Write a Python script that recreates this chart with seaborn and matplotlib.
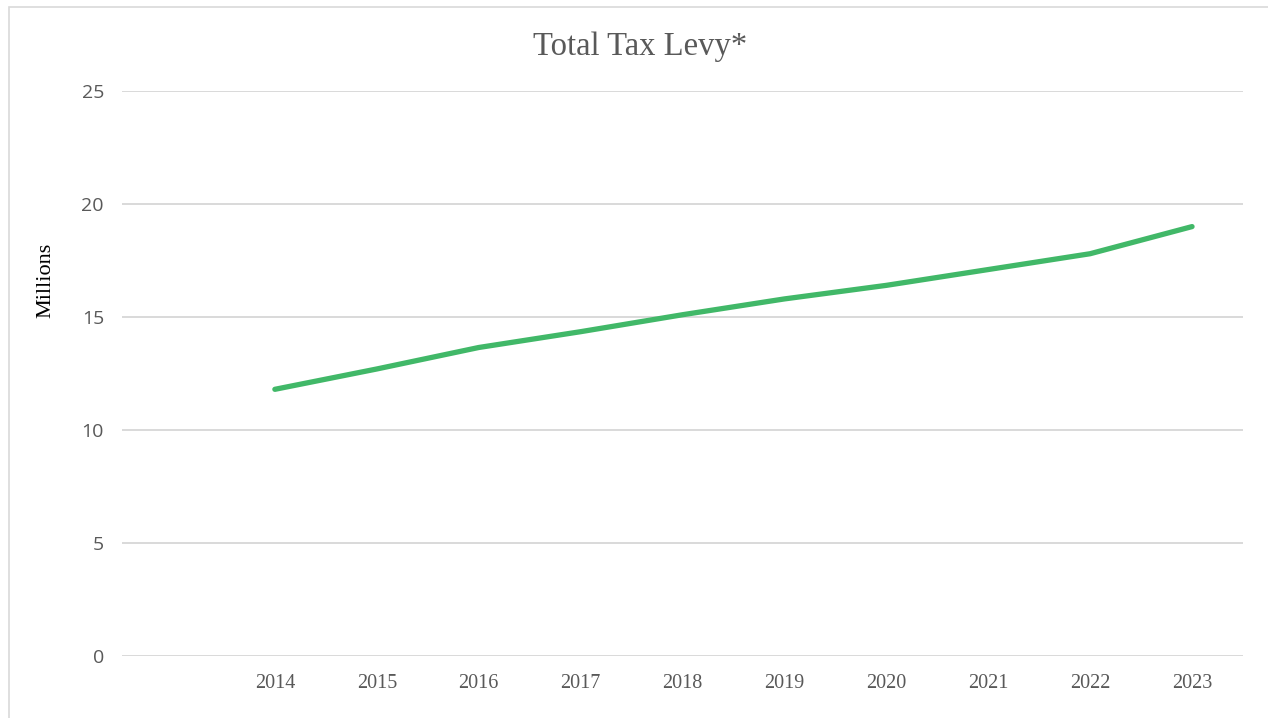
import numpy as np
import matplotlib
matplotlib.use("Agg")
import matplotlib.pyplot as plt
from matplotlib.patches import Rectangle
import seaborn as sns

# Total tax levy by year, in millions
years = ["2014", "2015", "2016", "2017", "2018", "2019", "2020", "2021", "2022", "2023"]
levy = [11.8, 12.7, 13.65, 14.35, 15.1, 15.8, 16.4, 17.1, 17.8, 19.0]
y_ticks = [0, 5, 10, 15, 20, 25]

sns.set_theme(style="white")
plt.rcParams["font.family"] = ["Liberation Serif", "DejaVu Serif"]

W, H = 1268, 718
fig = plt.figure(figsize=(W / 100, H / 100), dpi=100)
ax = fig.add_axes([122 / W, 1 - 656 / H, (1243 - 122) / W, (656 - 91) / H])

# Category slots: the first slot is left empty, years fill the rest
x_pos = np.arange(len(years)) + 1

ax.set_axisbelow(True)
for v in y_ticks:
    ax.axhline(v, color="#d9d9d9", lw=1.4, zorder=0)

sns.lineplot(x=x_pos, y=levy, ax=ax, color="#41b868", lw=3.8,
             solid_capstyle="round", solid_joinstyle="round", zorder=3)

ax.set_xlim(-0.5, len(years) + 0.5)
ax.set_ylim(0, 25)
ax.set_xticks(x_pos)
ax.set_xticklabels(years, fontsize=14.5, color="#595959",
                   family=["Liberation Serif"])
ax.set_yticks(y_ticks)
ax.set_yticklabels([str(v) for v in y_ticks], fontsize=14, color="#595959",
                   family=["Open Sans", "DejaVu Sans"])
ax.tick_params(axis="x", length=0, pad=13)
ax.tick_params(axis="y", length=0, pad=13)
for s in ax.spines.values():
    s.set_visible(False)
ax.set_xlabel("")
ax.set_ylabel("")

fig.text(46 / W, 1 - 280 / H, "Millions", rotation=90, ha="center", va="center",
         fontsize=16, color="black", family=["Liberation Serif"])
fig.text(640 / W, 1 - 47 / H, "Total Tax Levy*", ha="center", va="center",
         fontsize=23.5, color="#595959", family=["Liberation Serif"])

# Chart area frame
fig.add_artist(Rectangle((9 / W, -0.1), 1.2, 1 - 7 / H + 0.1,
                         transform=fig.transFigure, fill=False,
                         edgecolor="#d9d9d9", lw=1.2))

fig.savefig("out.png", dpi=100)
